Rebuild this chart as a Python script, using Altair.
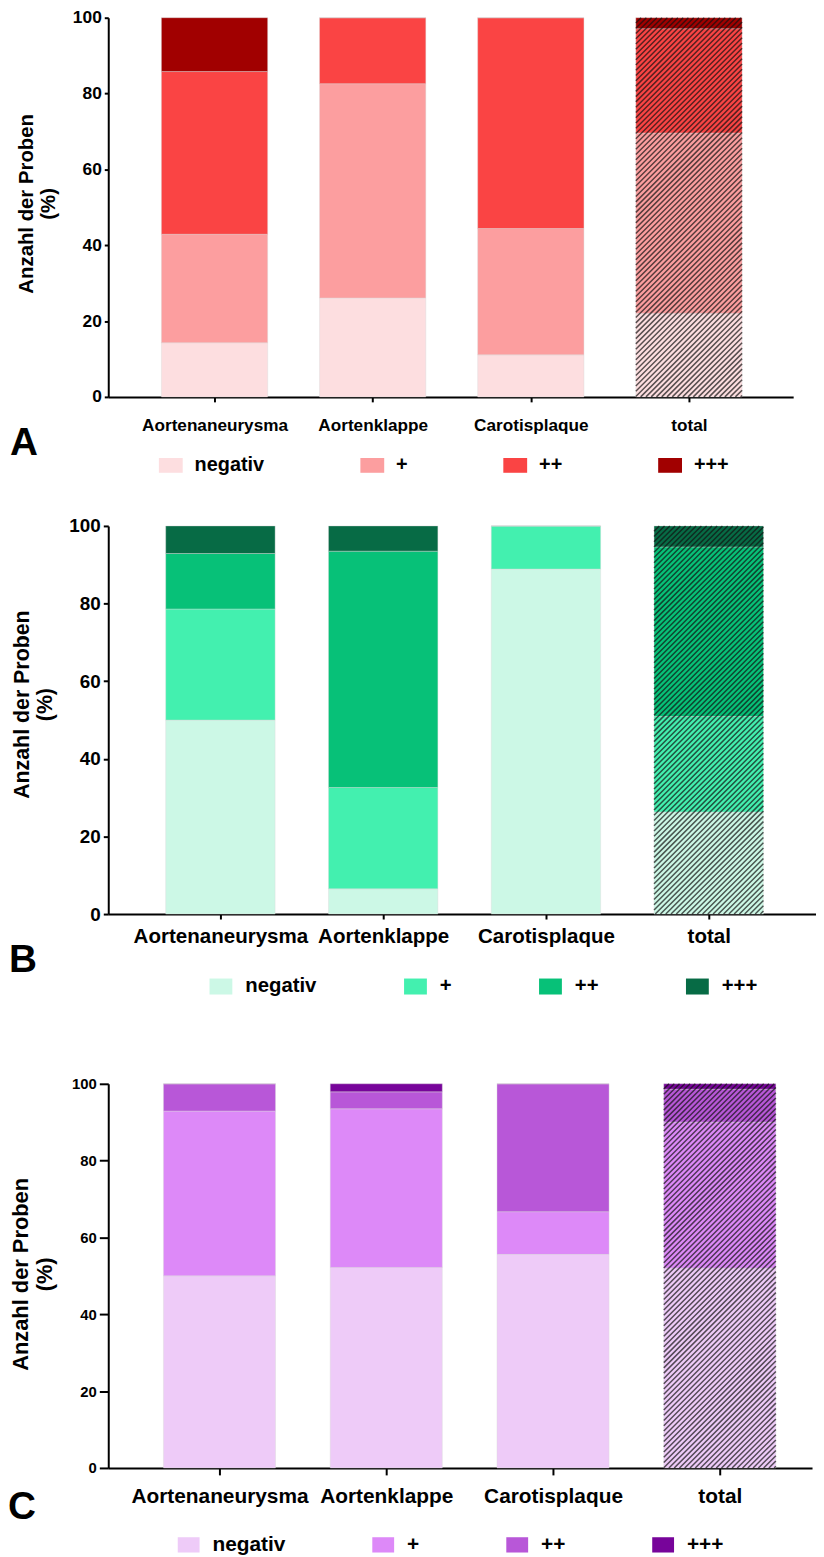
import json
import altair as alt
import pandas as pd

categories = ["Aortenaneurysma", "Aortenklappe", "Carotisplaque", "total"]
levels = ["negativ", "+", "++", "+++"]

# Panel A (percent of samples per level)
a_negativ = [14.3, 26.1, 11.1, 22.0]
a_plus = [28.6, 56.5, 33.3, 47.6]
a_plus2 = [42.9, 17.4, 55.6, 27.5]
a_plus3 = [14.2, 0.0, 0.0, 2.9]
a_colors = ["#FDDEE0", "#FC9E9F", "#FA4444", "#A10000"]

# Panel B
b_negativ = [50.0, 6.5, 88.9, 26.3]
b_plus = [28.6, 26.1, 11.1, 24.6]
b_plus2 = [14.3, 60.9, 0.0, 43.7]
b_plus3 = [7.1, 6.5, 0.0, 5.4]
b_colors = ["#CCF8E6", "#43F0AF", "#07C178", "#076B45"]

# Panel C
c_negativ = [50.0, 52.2, 55.6, 52.0]
c_plus = [42.9, 41.3, 11.1, 38.0]
c_plus2 = [7.1, 4.4, 33.3, 8.6]
c_plus3 = [0.0, 2.1, 0.0, 1.4]
c_colors = ["#EECBF8", "#DD89F8", "#B857D8", "#77049A"]

FONT = "Liberation Sans"
BAR_HALF = 0.336
HATCHED = "total"


def stacked_frame(series):
    rows = []
    for ci, cat in enumerate(categories):
        base = 0.0
        for li, lev in enumerate(levels):
            v = series[li][ci]
            rows.append({"cat": cat, "xi": ci, "x0": ci - BAR_HALF, "x1": ci + BAR_HALF,
                         "level": lev, "li": li, "y0": base, "y1": base + v, "val": v})
            base += v
    return pd.DataFrame(rows)


def hatch_frame(g, spacing=5.3):
    px = g["W"] / (g["xmax"] - g["xmin"])
    py = g["H"] / 100.0
    ci = categories.index(HATCHED)
    x0 = ci - BAR_HALF
    bw = 2 * BAR_HALF * px
    vt = g["H"]
    rows = []
    c = -vt
    while c < bw:
        us = max(0.0, c)
        ue = min(bw, c + vt)
        if ue > us:
            rows.append({"x0": x0 + us / px, "x1": x0 + ue / px,
                         "y0": (us - c) / py, "y1": (ue - c) / py})
        c += spacing
    return pd.DataFrame(rows)


def panel(series, colors, letter, g):
    df = stacked_frame(series)
    xscale = alt.Scale(domain=[g["xmin"], g["xmax"]], nice=False, zero=False)
    yscale = alt.Scale(domain=[0, 100], nice=False)
    label_expr = json.dumps(categories) + "[round(datum.value)]"
    xaxis = alt.Axis(values=[0, 1, 2, 3], labelExpr=label_expr, title=None, grid=False,
                     domain=True, ticks=True,
                     domainColor="#000000", domainWidth=2, domainOpacity=1,
                     tickColor="#000000", tickWidth=2,
                     tickSize=g["xtick"], labelPadding=g["xpad"], labelFont=FONT,
                     labelFontSize=g["xfs"], labelFontWeight="bold", labelColor="black",
                     labelOverlap=False, labelFlush=False, labelBound=False)
    yaxis = alt.Axis(values=[0, 20, 40, 60, 80, 100], title=["Anzahl der Proben", "(%)"],
                     grid=False, domain=True, ticks=True,
                     domainColor="#000000", domainWidth=2, domainOpacity=1,
                     tickColor="#000000", tickWidth=2, tickSize=g["ytick"], labelPadding=3,
                     labelFont=FONT, labelFontSize=g["yfs"], labelFontWeight="bold",
                     labelColor="black", titleFont=FONT, titleFontSize=g["tfs"],
                     titleFontWeight="bold", titleColor="black", titlePadding=g["tpad"],
                     titleY=g["H"] / 2 + g["tdy"])
    legend = alt.Legend(orient="none", legendX=g["lx"], legendY=g["ly"], direction="horizontal",
                        columns=4, gridAlign="each", columnPadding=g["lcp"], title=None,
                        padding=0, symbolType=g["sym"], symbolSize=g["ssize"],
                        symbolStrokeWidth=0, symbolOpacity=1, labelFont=FONT,
                        labelFontSize=g["lfs"], labelFontWeight="bold", labelColor="black",
                        labelOffset=g["loff"])
    bars = alt.Chart(df).mark_rect(stroke="#d8d8d8", strokeWidth=0.4).encode(
        x=alt.X("x0:Q", scale=xscale, axis=xaxis),
        x2="x1:Q",
        y=alt.Y("y0:Q", scale=yscale, axis=yaxis),
        y2="y1:Q",
        color=alt.Color("level:N", scale=alt.Scale(domain=levels, range=colors), legend=legend),
    )
    hatch = alt.Chart(hatch_frame(g)).mark_rule(color="#111111", strokeWidth=1.5, opacity=0.7).encode(
        x=alt.X("x0:Q", scale=xscale, axis=xaxis), x2="x1:Q",
        y=alt.Y("y0:Q", scale=yscale, axis=yaxis), y2="y1:Q"
    )
    lab = alt.Chart(pd.DataFrame({"t": [letter]})).mark_text(
        font=FONT, fontSize=39, fontWeight="bold", color="black", align="left",
        baseline="alphabetic"
    ).encode(text="t:N", x=alt.value(g["letx"]), y=alt.value(g["H"] + g["lety"]))
    return alt.layer(bars, hatch, lab).properties(width=g["W"], height=g["H"])


gA = dict(W=690, H=382, xmin=-0.672, xmax=3.659, xtick=5, xpad=14.5, xfs=17.3, ytick=4, yfs=17.5,
          tfs=20.5, tpad=14, tdy=-4, lx=51, ly=382 + 57, lcp=96, lfs=20, loff=12,
          sym="M-1,-0.62H1V0.62H-1Z", ssize=576, letx=-99, lety=59)
gB = dict(W=713, H=391, xmin=-0.689, xmax=3.659, xtick=5, xpad=7.5, xfs=20.7, ytick=5, yfs=19,
          tfs=21.5, tpad=12, tdy=-16, lx=102, ly=391 + 61.5, lcp=88, lfs=20.5, loff=13,
          sym="M-1,-0.7H1V0.7H-1Z", ssize=529, letx=-100, lety=58)
gC = dict(W=709, H=387, xmin=-0.667, xmax=3.553, xtick=7, xpad=10.5, xfs=21, ytick=9, yfs=15,
          tfs=22, tpad=15, tdy=-2, lx=70, ly=387 + 66.5, lcp=87, lfs=21, loff=13,
          sym="M-1,-0.7H1V0.7H-1Z", ssize=484, letx=-101, lety=51)

pA = panel([a_negativ, a_plus, a_plus2, a_plus3], a_colors, "A", gA)
pB = panel([b_negativ, b_plus, b_plus2, b_plus3], b_colors, "B", gB)
pC = panel([c_negativ, c_plus, c_plus2, c_plus3], c_colors, "C", gC)

top = alt.vconcat(pA, pB, spacing=42).resolve_scale(
    x="independent", y="independent", color="independent").resolve_legend(color="independent")
chart = alt.vconcat(top, pC, spacing=80).resolve_scale(
    x="independent", y="independent", color="independent").resolve_legend(color="independent")
chart = chart.properties(
    padding={"left": 0, "top": -5, "right": 0, "bottom": 6}, background="white"
).configure_view(stroke=None).configure_axis(domain=True, domainColor="#000000")

chart.save("out.html", embed_options={"renderer": "svg", "actions": False})
